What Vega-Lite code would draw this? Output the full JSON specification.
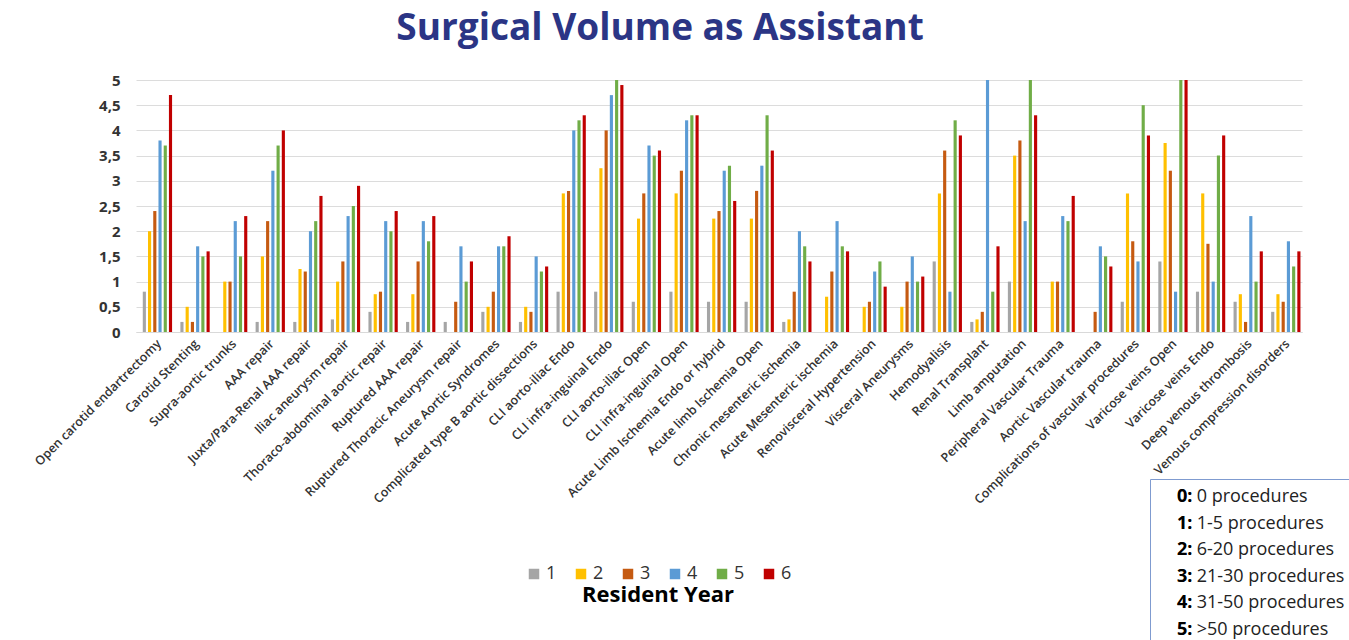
{
  "$schema": "https://vega.github.io/schema/vega-lite/v6.json",
  "autosize": {"type": "none"},
  "width": 1166,
  "height": 252,
  "padding": {"left": 136, "top": 80, "right": 47, "bottom": 308},
  "background": "white",
  "title": {
    "text": "Surgical Volume as Assistant",
    "font": "Open Sans",
    "fontSize": 37,
    "fontWeight": "bold",
    "color": "#2B3585",
    "anchor": "middle",
    "dx": -59,
    "offset": 25
  },
  "datasets": {
    "vol": [
      {"proc": "Open carotid endartrectomy", "year": "1", "v": 0.8}, {"proc": "Open carotid endartrectomy", "year": "2", "v": 2.0}, {"proc": "Open carotid endartrectomy", "year": "3", "v": 2.4}, {"proc": "Open carotid endartrectomy", "year": "4", "v": 3.8}, {"proc": "Open carotid endartrectomy", "year": "5", "v": 3.7}, {"proc": "Open carotid endartrectomy", "year": "6", "v": 4.7},
      {"proc": "Carotid Stenting", "year": "1", "v": 0.2}, {"proc": "Carotid Stenting", "year": "2", "v": 0.5}, {"proc": "Carotid Stenting", "year": "3", "v": 0.2}, {"proc": "Carotid Stenting", "year": "4", "v": 1.7}, {"proc": "Carotid Stenting", "year": "5", "v": 1.5}, {"proc": "Carotid Stenting", "year": "6", "v": 1.6},
      {"proc": "Supra-aortic trunks", "year": "1", "v": 0}, {"proc": "Supra-aortic trunks", "year": "2", "v": 1.0}, {"proc": "Supra-aortic trunks", "year": "3", "v": 1.0}, {"proc": "Supra-aortic trunks", "year": "4", "v": 2.2}, {"proc": "Supra-aortic trunks", "year": "5", "v": 1.5}, {"proc": "Supra-aortic trunks", "year": "6", "v": 2.3},
      {"proc": "AAA repair", "year": "1", "v": 0.2}, {"proc": "AAA repair", "year": "2", "v": 1.5}, {"proc": "AAA repair", "year": "3", "v": 2.2}, {"proc": "AAA repair", "year": "4", "v": 3.2}, {"proc": "AAA repair", "year": "5", "v": 3.7}, {"proc": "AAA repair", "year": "6", "v": 4.0},
      {"proc": "Juxta/Para-Renal AAA repair", "year": "1", "v": 0.2}, {"proc": "Juxta/Para-Renal AAA repair", "year": "2", "v": 1.25}, {"proc": "Juxta/Para-Renal AAA repair", "year": "3", "v": 1.2}, {"proc": "Juxta/Para-Renal AAA repair", "year": "4", "v": 2.0}, {"proc": "Juxta/Para-Renal AAA repair", "year": "5", "v": 2.2}, {"proc": "Juxta/Para-Renal AAA repair", "year": "6", "v": 2.7},
      {"proc": "Iliac aneurysm repair", "year": "1", "v": 0.25}, {"proc": "Iliac aneurysm repair", "year": "2", "v": 1.0}, {"proc": "Iliac aneurysm repair", "year": "3", "v": 1.4}, {"proc": "Iliac aneurysm repair", "year": "4", "v": 2.3}, {"proc": "Iliac aneurysm repair", "year": "5", "v": 2.5}, {"proc": "Iliac aneurysm repair", "year": "6", "v": 2.9},
      {"proc": "Thoraco-abdominal aortic repair", "year": "1", "v": 0.4}, {"proc": "Thoraco-abdominal aortic repair", "year": "2", "v": 0.75}, {"proc": "Thoraco-abdominal aortic repair", "year": "3", "v": 0.8}, {"proc": "Thoraco-abdominal aortic repair", "year": "4", "v": 2.2}, {"proc": "Thoraco-abdominal aortic repair", "year": "5", "v": 2.0}, {"proc": "Thoraco-abdominal aortic repair", "year": "6", "v": 2.4},
      {"proc": "Ruptured AAA repair", "year": "1", "v": 0.2}, {"proc": "Ruptured AAA repair", "year": "2", "v": 0.75}, {"proc": "Ruptured AAA repair", "year": "3", "v": 1.4}, {"proc": "Ruptured AAA repair", "year": "4", "v": 2.2}, {"proc": "Ruptured AAA repair", "year": "5", "v": 1.8}, {"proc": "Ruptured AAA repair", "year": "6", "v": 2.3},
      {"proc": "Ruptured Thoracic Aneurysm repair", "year": "1", "v": 0.2}, {"proc": "Ruptured Thoracic Aneurysm repair", "year": "2", "v": 0}, {"proc": "Ruptured Thoracic Aneurysm repair", "year": "3", "v": 0.6}, {"proc": "Ruptured Thoracic Aneurysm repair", "year": "4", "v": 1.7}, {"proc": "Ruptured Thoracic Aneurysm repair", "year": "5", "v": 1.0}, {"proc": "Ruptured Thoracic Aneurysm repair", "year": "6", "v": 1.4},
      {"proc": "Acute Aortic Syndromes", "year": "1", "v": 0.4}, {"proc": "Acute Aortic Syndromes", "year": "2", "v": 0.5}, {"proc": "Acute Aortic Syndromes", "year": "3", "v": 0.8}, {"proc": "Acute Aortic Syndromes", "year": "4", "v": 1.7}, {"proc": "Acute Aortic Syndromes", "year": "5", "v": 1.7}, {"proc": "Acute Aortic Syndromes", "year": "6", "v": 1.9},
      {"proc": "Complicated type B aortic dissections", "year": "1", "v": 0.2}, {"proc": "Complicated type B aortic dissections", "year": "2", "v": 0.5}, {"proc": "Complicated type B aortic dissections", "year": "3", "v": 0.4}, {"proc": "Complicated type B aortic dissections", "year": "4", "v": 1.5}, {"proc": "Complicated type B aortic dissections", "year": "5", "v": 1.2}, {"proc": "Complicated type B aortic dissections", "year": "6", "v": 1.3},
      {"proc": "CLI aorto-iliac Endo", "year": "1", "v": 0.8}, {"proc": "CLI aorto-iliac Endo", "year": "2", "v": 2.75}, {"proc": "CLI aorto-iliac Endo", "year": "3", "v": 2.8}, {"proc": "CLI aorto-iliac Endo", "year": "4", "v": 4.0}, {"proc": "CLI aorto-iliac Endo", "year": "5", "v": 4.2}, {"proc": "CLI aorto-iliac Endo", "year": "6", "v": 4.3},
      {"proc": "CLI infra-inguinal Endo", "year": "1", "v": 0.8}, {"proc": "CLI infra-inguinal Endo", "year": "2", "v": 3.25}, {"proc": "CLI infra-inguinal Endo", "year": "3", "v": 4.0}, {"proc": "CLI infra-inguinal Endo", "year": "4", "v": 4.7}, {"proc": "CLI infra-inguinal Endo", "year": "5", "v": 5.0}, {"proc": "CLI infra-inguinal Endo", "year": "6", "v": 4.9},
      {"proc": "CLI aorto-iliac Open", "year": "1", "v": 0.6}, {"proc": "CLI aorto-iliac Open", "year": "2", "v": 2.25}, {"proc": "CLI aorto-iliac Open", "year": "3", "v": 2.75}, {"proc": "CLI aorto-iliac Open", "year": "4", "v": 3.7}, {"proc": "CLI aorto-iliac Open", "year": "5", "v": 3.5}, {"proc": "CLI aorto-iliac Open", "year": "6", "v": 3.6},
      {"proc": "CLI infra-inguinal Open", "year": "1", "v": 0.8}, {"proc": "CLI infra-inguinal Open", "year": "2", "v": 2.75}, {"proc": "CLI infra-inguinal Open", "year": "3", "v": 3.2}, {"proc": "CLI infra-inguinal Open", "year": "4", "v": 4.2}, {"proc": "CLI infra-inguinal Open", "year": "5", "v": 4.3}, {"proc": "CLI infra-inguinal Open", "year": "6", "v": 4.3},
      {"proc": "Acute Limb Ischemia Endo or hybrid", "year": "1", "v": 0.6}, {"proc": "Acute Limb Ischemia Endo or hybrid", "year": "2", "v": 2.25}, {"proc": "Acute Limb Ischemia Endo or hybrid", "year": "3", "v": 2.4}, {"proc": "Acute Limb Ischemia Endo or hybrid", "year": "4", "v": 3.2}, {"proc": "Acute Limb Ischemia Endo or hybrid", "year": "5", "v": 3.3}, {"proc": "Acute Limb Ischemia Endo or hybrid", "year": "6", "v": 2.6},
      {"proc": "Acute limb Ischemia Open", "year": "1", "v": 0.6}, {"proc": "Acute limb Ischemia Open", "year": "2", "v": 2.25}, {"proc": "Acute limb Ischemia Open", "year": "3", "v": 2.8}, {"proc": "Acute limb Ischemia Open", "year": "4", "v": 3.3}, {"proc": "Acute limb Ischemia Open", "year": "5", "v": 4.3}, {"proc": "Acute limb Ischemia Open", "year": "6", "v": 3.6},
      {"proc": "Chronic mesenteric ischemia", "year": "1", "v": 0.2}, {"proc": "Chronic mesenteric ischemia", "year": "2", "v": 0.25}, {"proc": "Chronic mesenteric ischemia", "year": "3", "v": 0.8}, {"proc": "Chronic mesenteric ischemia", "year": "4", "v": 2.0}, {"proc": "Chronic mesenteric ischemia", "year": "5", "v": 1.7}, {"proc": "Chronic mesenteric ischemia", "year": "6", "v": 1.4},
      {"proc": "Acute Mesenteric ischemia", "year": "1", "v": 0}, {"proc": "Acute Mesenteric ischemia", "year": "2", "v": 0.7}, {"proc": "Acute Mesenteric ischemia", "year": "3", "v": 1.2}, {"proc": "Acute Mesenteric ischemia", "year": "4", "v": 2.2}, {"proc": "Acute Mesenteric ischemia", "year": "5", "v": 1.7}, {"proc": "Acute Mesenteric ischemia", "year": "6", "v": 1.6},
      {"proc": "Renovisceral Hypertension", "year": "1", "v": 0}, {"proc": "Renovisceral Hypertension", "year": "2", "v": 0.5}, {"proc": "Renovisceral Hypertension", "year": "3", "v": 0.6}, {"proc": "Renovisceral Hypertension", "year": "4", "v": 1.2}, {"proc": "Renovisceral Hypertension", "year": "5", "v": 1.4}, {"proc": "Renovisceral Hypertension", "year": "6", "v": 0.9},
      {"proc": "Visceral Aneurysms", "year": "1", "v": 0}, {"proc": "Visceral Aneurysms", "year": "2", "v": 0.5}, {"proc": "Visceral Aneurysms", "year": "3", "v": 1.0}, {"proc": "Visceral Aneurysms", "year": "4", "v": 1.5}, {"proc": "Visceral Aneurysms", "year": "5", "v": 1.0}, {"proc": "Visceral Aneurysms", "year": "6", "v": 1.1},
      {"proc": "Hemodyalisis", "year": "1", "v": 1.4}, {"proc": "Hemodyalisis", "year": "2", "v": 2.75}, {"proc": "Hemodyalisis", "year": "3", "v": 3.6}, {"proc": "Hemodyalisis", "year": "4", "v": 0.8}, {"proc": "Hemodyalisis", "year": "5", "v": 4.2}, {"proc": "Hemodyalisis", "year": "6", "v": 3.9},
      {"proc": "Renal Transplant", "year": "1", "v": 0.2}, {"proc": "Renal Transplant", "year": "2", "v": 0.25}, {"proc": "Renal Transplant", "year": "3", "v": 0.4}, {"proc": "Renal Transplant", "year": "4", "v": 5.0}, {"proc": "Renal Transplant", "year": "5", "v": 0.8}, {"proc": "Renal Transplant", "year": "6", "v": 1.7},
      {"proc": "Limb amputation", "year": "1", "v": 1.0}, {"proc": "Limb amputation", "year": "2", "v": 3.5}, {"proc": "Limb amputation", "year": "3", "v": 3.8}, {"proc": "Limb amputation", "year": "4", "v": 2.2}, {"proc": "Limb amputation", "year": "5", "v": 5.0}, {"proc": "Limb amputation", "year": "6", "v": 4.3},
      {"proc": "Peripheral Vascular Trauma", "year": "1", "v": 0}, {"proc": "Peripheral Vascular Trauma", "year": "2", "v": 1.0}, {"proc": "Peripheral Vascular Trauma", "year": "3", "v": 1.0}, {"proc": "Peripheral Vascular Trauma", "year": "4", "v": 2.3}, {"proc": "Peripheral Vascular Trauma", "year": "5", "v": 2.2}, {"proc": "Peripheral Vascular Trauma", "year": "6", "v": 2.7},
      {"proc": "Aortic Vascular trauma", "year": "1", "v": 0}, {"proc": "Aortic Vascular trauma", "year": "2", "v": 0}, {"proc": "Aortic Vascular trauma", "year": "3", "v": 0.4}, {"proc": "Aortic Vascular trauma", "year": "4", "v": 1.7}, {"proc": "Aortic Vascular trauma", "year": "5", "v": 1.5}, {"proc": "Aortic Vascular trauma", "year": "6", "v": 1.3},
      {"proc": "Complications of vascular procedures", "year": "1", "v": 0.6}, {"proc": "Complications of vascular procedures", "year": "2", "v": 2.75}, {"proc": "Complications of vascular procedures", "year": "3", "v": 1.8}, {"proc": "Complications of vascular procedures", "year": "4", "v": 1.4}, {"proc": "Complications of vascular procedures", "year": "5", "v": 4.5}, {"proc": "Complications of vascular procedures", "year": "6", "v": 3.9},
      {"proc": "Varicose veins Open", "year": "1", "v": 1.4}, {"proc": "Varicose veins Open", "year": "2", "v": 3.75}, {"proc": "Varicose veins Open", "year": "3", "v": 3.2}, {"proc": "Varicose veins Open", "year": "4", "v": 0.8}, {"proc": "Varicose veins Open", "year": "5", "v": 5.0}, {"proc": "Varicose veins Open", "year": "6", "v": 5.0},
      {"proc": "Varicose veins Endo", "year": "1", "v": 0.8}, {"proc": "Varicose veins Endo", "year": "2", "v": 2.75}, {"proc": "Varicose veins Endo", "year": "3", "v": 1.75}, {"proc": "Varicose veins Endo", "year": "4", "v": 1.0}, {"proc": "Varicose veins Endo", "year": "5", "v": 3.5}, {"proc": "Varicose veins Endo", "year": "6", "v": 3.9},
      {"proc": "Deep venous thrombosis", "year": "1", "v": 0.6}, {"proc": "Deep venous thrombosis", "year": "2", "v": 0.75}, {"proc": "Deep venous thrombosis", "year": "3", "v": 0.2}, {"proc": "Deep venous thrombosis", "year": "4", "v": 2.3}, {"proc": "Deep venous thrombosis", "year": "5", "v": 1.0}, {"proc": "Deep venous thrombosis", "year": "6", "v": 1.6},
      {"proc": "Venous compression disorders", "year": "1", "v": 0.4}, {"proc": "Venous compression disorders", "year": "2", "v": 0.75}, {"proc": "Venous compression disorders", "year": "3", "v": 0.6}, {"proc": "Venous compression disorders", "year": "4", "v": 1.8}, {"proc": "Venous compression disorders", "year": "5", "v": 1.3}, {"proc": "Venous compression disorders", "year": "6", "v": 1.6}
    ],
    "levels": [
      {"lvl": "0", "lvlText": "0: 0 procedures"},
      {"lvl": "1", "lvlText": "1: 1-5 procedures"},
      {"lvl": "2", "lvlText": "2: 6-20 procedures"},
      {"lvl": "3", "lvlText": "3: 21-30 procedures"},
      {"lvl": "4", "lvlText": "4: 31-50 procedures"},
      {"lvl": "5", "lvlText": "5: >50 procedures"}
    ]
  },
  "layer": [
    {
      "data": {"name": "vol"},
      "mark": {"type": "bar", "width": {"band": 0.8}},
      "encoding": {
        "x": {
          "field": "proc",
          "type": "nominal",
          "sort": null,
          "scale": {"paddingInner": 0.2, "paddingOuter": 0.1},
          "axis": {
            "title": null,
            "labelAngle": -45,
            "labelFont": "Open Sans",
            "labelFontSize": 12.5,
            "labelFontWeight": 600,
            "labelColor": "#333333",
            "labelLimit": 400,
            "labelPadding": 5,
            "ticks": false,
            "domain": true,
            "domainColor": "#D9D9D9",
            "grid": false
          }
        },
        "xOffset": {"field": "year", "type": "nominal", "scale": {"paddingInner": 0.25}},
        "y": {
          "field": "v",
          "type": "quantitative",
          "scale": {"domain": [0, 5], "nice": false},
          "axis": {
            "title": null,
            "values": [0, 0.5, 1, 1.5, 2, 2.5, 3, 3.5, 4, 4.5, 5],
            "labelExpr": "replace(format(datum.value, '~g'), '.', ',')",
            "labelFont": "Open Sans",
            "labelFontSize": 15,
            "labelFontWeight": "bold",
            "labelColor": "#333333",
            "labelPadding": 16,
            "ticks": false,
            "domain": false,
            "grid": true,
            "gridColor": "#DCDCDC",
            "gridWidth": 1
          }
        },
        "color": {
          "field": "year",
          "type": "nominal",
          "scale": {
            "domain": ["1", "2", "3", "4", "5", "6"],
            "range": ["#A5A5A5", "#FFC000", "#C55A11", "#5B9BD5", "#70AD47", "#C00000"]
          },
          "legend": {
            "title": "Resident Year",
            "orient": "none",
            "legendX": 389,
            "legendY": 485,
            "direction": "horizontal",
            "padding": 0,
            "symbolType": "square",
            "symbolSize": 110,
            "symbolStrokeWidth": 0,
            "symbolOpacity": 1,
            "labelFont": "Open Sans",
            "labelFontSize": 18,
            "labelColor": "#333333",
            "labelOffset": 3,
            "columnPadding": 15,
            "titleOrient": "bottom",
            "titleAnchor": "middle",
            "titleFont": "Open Sans",
            "titleFontSize": 22,
            "titleFontWeight": "bold",
            "titleColor": "#000000",
            "titlePadding": 2
          }
        }
      }
    },
    {
      "data": {"name": "levels"},
      "mark": {"type": "point", "opacity": 0},
      "encoding": {
        "shape": {
          "field": "lvlText",
          "type": "nominal",
          "legend": {
            "title": null,
            "orient": "none",
            "legendX": 1014,
            "legendY": 399,
            "padding": 9,
            "strokeColor": "#7F9BD0",
            "fillColor": "#FFFFFF",
            "symbolType": "square",
            "symbolSize": 1,
            "symbolOpacity": 0,
            "symbolStrokeWidth": 0,
            "labelOffset": 0,
            "labelFont": "Open Sans",
            "labelFontSize": 18,
            "labelColor": "#222222",
            "labelLimit": 400,
            "rowPadding": 8.5
          }
        }
      }
    },
    {
      "data": {"name": "levels"},
      "mark": {"type": "point", "opacity": 0},
      "encoding": {
        "shape": {
          "field": "lvl",
          "type": "nominal",
          "legend": {
            "title": null,
            "orient": "none",
            "legendX": 1014,
            "legendY": 399,
            "padding": 9,
            "symbolType": "square",
            "symbolSize": 1,
            "symbolOpacity": 0,
            "symbolStrokeWidth": 0,
            "labelOffset": 0,
            "labelFont": "Open Sans",
            "labelFontSize": 18,
            "labelFontWeight": "bold",
            "labelColor": "#000000",
            "labelExpr": "datum.label + ':'",
            "rowPadding": 8.5
          }
        }
      }
    }
  ],
  "resolve": {"scale": {"shape": "independent"}, "legend": {"shape": "independent"}},
  "config": {
    "view": {"stroke": null},
    "font": "Open Sans"
  }
}
